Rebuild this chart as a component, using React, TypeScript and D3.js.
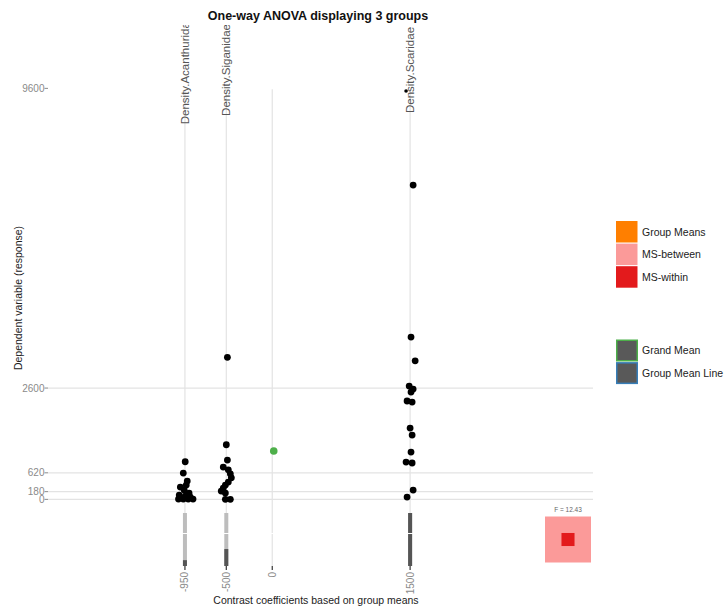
import React, { useRef, useEffect } from 'react';
import * as d3 from 'd3';

// tamanho fixo da figura
const width = 724;
const height = 610;

// dados
const groups = ['Density.Acanthuridae', 'Density.Siganidae', 'Density.Scaridae'];
const contrasts = [-950, -500, 1500];
const xTicks = [-950, -500, 0, 1500];
const yTicks = [0, 180, 620, 2600, 9600];

const acanthuridae = [878, 614, 427, 334, 287, 217, 147, 100, 77, 53, 7, 7, 7, 7];
const acanthJitter = [3, -18, 25, 14, -50, -8, 45, -62, 3, 58, -70, -18, 36, 88];

const siganidae = [3317, 1275, 918, 755, 689, 596, 502, 404, 334, 264, 194, 147, 0, 0];
const siganJitter = [12, 0, 12, -33, 22, 44, 55, 22, -10, -33, -55, -10, -10, 44];

const scaridae = [9540, 7342, 3790, 3235, 2647, 2577, 2507, 2297, 2273, 1666, 1502, 1105, 872, 849, 217, 54];
const scarJitter = [-44, 33, 10, 55, -10, 33, 10, -33, 22, 0, 22, 10, -44, 22, 33, -33];

const grandMean = 1128;
// parcela escura das barras de baixo (MS-within por grupo)
const withinShare = [0.11, 0.32, 1.0];
const fStat = 12.43;

const legendFill = [
    { label: 'Group Means', color: '#FF7F00' },
    { label: 'MS-between', color: '#FB9A99' },
    { label: 'MS-within', color: '#E31A1C' },
];
const legendLine = [
    { label: 'Grand Mean', stroke: '#4DAF4A' },
    { label: 'Group Mean Line', stroke: '#377EB8' },
];

const font = '"Liberation Sans", Arial, sans-serif';

export default function App() {
    const svgRef = useRef(null);

    useEffect(() => {
        if (!svgRef.current) return;
        const root = d3.select(svgRef.current);
        root.selectAll('*').remove();
        root.attr('width', width).attr('height', height).style('font-family', font);

        const x = d3.scaleLinear().domain([-2440, 3490]).range([48, 593]);
        const y = d3.scaleLinear().domain([-1650, 11080]).range([570, 25]);

        const grid = '#E3E3E3';
        const barTop = 513;
        const barBottom = 566;

        // grade horizontal (sem linha no 9600)
        root.append('g').selectAll('line')
            .data(yTicks.filter(t => t !== 9600))
            .enter().append('line')
            .attr('x1', 48).attr('x2', 593)
            .attr('y1', d => y(d)).attr('y2', d => y(d))
            .attr('stroke', grid).attr('stroke-width', 1.2);

        // grade vertical
        root.append('g').selectAll('line')
            .data(xTicks)
            .enter().append('line')
            .attr('x1', d => x(d)).attr('x2', d => x(d))
            .attr('y1', y(9600) + 1).attr('y2', barBottom)
            .attr('stroke', grid).attr('stroke-width', 1.2);

        // barras na base
        const bars = root.append('g');
        contrasts.forEach((c, i) => {
            bars.append('rect')
                .attr('x', x(c) - 2).attr('width', 4)
                .attr('y', barTop).attr('height', barBottom - barTop)
                .attr('fill', '#BDBDBD');
            const h = (barBottom - barTop) * withinShare[i];
            bars.append('rect')
                .attr('x', x(c) - 2).attr('width', 4)
                .attr('y', barBottom - h).attr('height', h)
                .attr('fill', '#555555');
        });
        root.append('line')
            .attr('x1', x(-1100)).attr('x2', x(1700))
            .attr('y1', 533.5).attr('y2', 533.5)
            .attr('stroke', 'white').attr('stroke-width', 1);

        // ticks do eixo x
        root.append('g').selectAll('line')
            .data(xTicks)
            .enter().append('line')
            .attr('x1', d => x(d)).attr('x2', d => x(d))
            .attr('y1', barBottom).attr('y2', 570)
            .attr('stroke', '#333').attr('stroke-width', 1.2);

        root.append('g').selectAll('text')
            .data(xTicks)
            .enter().append('text')
            .attr('transform', d => `translate(${x(d) + 3.5},572) rotate(-90)`)
            .attr('text-anchor', 'end')
            .style('font-size', '10px')
            .style('fill', '#8A8A8A')
            .text(d => d);

        // eixo y
        root.append('g').selectAll('line')
            .data(yTicks)
            .enter().append('line')
            .attr('x1', 44.5).attr('x2', 48)
            .attr('y1', d => y(d)).attr('y2', d => y(d))
            .attr('stroke', '#8A8A8A').attr('stroke-width', 1);

        root.append('g').selectAll('text')
            .data(yTicks)
            .enter().append('text')
            .attr('x', 44.5)
            .attr('y', d => y(d))
            .attr('dy', '0.35em')
            .attr('text-anchor', 'end')
            .style('font-size', '10px')
            .style('fill', '#8A8A8A')
            .text(d => d);

        // pontos
        const series = [
            { c: contrasts[0], v: acanthuridae, j: acanthJitter },
            { c: contrasts[1], v: siganidae, j: siganJitter },
            { c: contrasts[2], v: scaridae, j: scarJitter },
        ];
        const pts = root.append('g');
        series.forEach(s => {
            pts.selectAll(null)
                .data(s.v)
                .enter().append('circle')
                .attr('cx', (d, i) => x(s.c + s.j[i]))
                .attr('cy', d => y(d))
                .attr('r', d => d > 9000 ? 1.8 : 3.4)
                .attr('fill', '#000');
        });

        // média geral
        root.append('circle')
            .attr('cx', x(0) + 1.5).attr('cy', y(grandMean))
            .attr('r', 3.8).attr('fill', '#4DAF4A');

        // rótulos dos grupos (cortados no topo do painel)
        root.append('clipPath').attr('id', 'panelClip')
            .append('rect').attr('x', 0).attr('y', 25).attr('width', width).attr('height', height);
        root.append('g').attr('clip-path', 'url(#panelClip)')
            .selectAll('text')
            .data(groups)
            .enter().append('text')
            .attr('transform', (d, i) => `translate(${x(contrasts[i]) + 4},70) rotate(-90)`)
            .attr('text-anchor', 'middle')
            .style('font-size', '11.5px')
            .style('fill', '#555')
            .text(d => d);

        // quadrado do F
        const outer = 46;
        const inner = outer / Math.sqrt(fStat);
        const fx = 568;
        const fy = 539.5;
        root.append('rect')
            .attr('x', fx - outer / 2).attr('y', fy - outer / 2)
            .attr('width', outer).attr('height', outer)
            .attr('fill', '#FB9A99');
        root.append('rect')
            .attr('x', fx - inner / 2).attr('y', fy - inner / 2)
            .attr('width', inner).attr('height', inner)
            .attr('fill', '#E31A1C');
        root.append('text')
            .attr('x', fx).attr('y', 512)
            .attr('text-anchor', 'middle')
            .style('font-size', '6.5px')
            .style('fill', '#666')
            .text(`F = ${fStat}`);

        // títulos
        root.append('text')
            .attr('x', 318).attr('y', 20)
            .attr('text-anchor', 'middle')
            .style('font-size', '12.5px').style('font-weight', 'bold')
            .style('fill', '#111')
            .text('One-way ANOVA displaying 3 groups');
        root.append('text')
            .attr('x', 316).attr('y', 604)
            .attr('text-anchor', 'middle')
            .style('font-size', '10.5px')
            .style('fill', '#222')
            .text('Contrast coefficients based on group means');
        root.append('text')
            .attr('transform', 'translate(22,298) rotate(-90)')
            .attr('text-anchor', 'middle')
            .style('font-size', '10.5px')
            .style('fill', '#222')
            .text('Dependent variable (response)');

        // legendas
        const lg1 = root.append('g').attr('transform', 'translate(616,221)');
        legendFill.forEach((d, i) => {
            lg1.append('rect')
                .attr('x', 0).attr('y', i * 22.6)
                .attr('width', 21.5).attr('height', 21.5)
                .attr('fill', d.color);
            lg1.append('text')
                .attr('x', 26).attr('y', i * 22.6 + 11)
                .attr('dy', '.35em')
                .style('font-size', '10.5px')
                .style('fill', '#222')
                .text(d.label);
        });
        const lg2 = root.append('g').attr('transform', 'translate(616,339.5)');
        legendLine.forEach((d, i) => {
            lg2.append('rect')
                .attr('x', 0.75).attr('y', i * 22.6 + 0.75)
                .attr('width', 20.5).attr('height', 20.5)
                .attr('fill', '#595959')
                .attr('stroke', d.stroke).attr('stroke-width', 1.5);
            lg2.append('text')
                .attr('x', 26).attr('y', i * 22.6 + 11)
                .attr('dy', '.35em')
                .style('font-size', '10.5px')
                .style('fill', '#222')
                .text(d.label);
        });
    }, []);

    return (
        <div style={{ position: 'absolute', left: 0, top: 0 }}>
            <svg ref={svgRef}></svg>
        </div>
    );
}
